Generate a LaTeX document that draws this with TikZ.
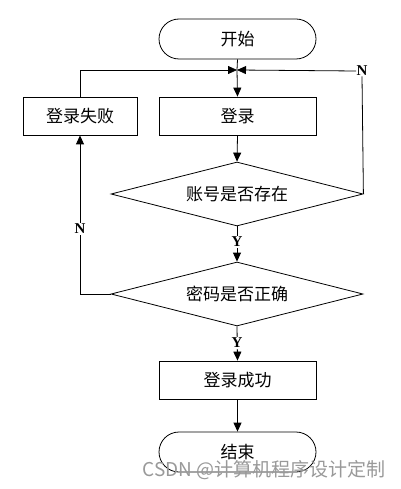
\documentclass[tikz,border=0pt]{standalone}
\usepackage{fontspec}
\setmainfont{Liberation Serif}
\newfontfamily\cjk{Noto Sans CJK SC}
\usetikzlibrary{arrows.meta,shapes.geometric,shapes.misc}
\begin{document}
\begin{tikzpicture}[x=1pt,y=-1pt,
  line width=0.8pt,
  arr/.style={-{Triangle[length=9pt,width=8pt]}},
  txt/.style={font=\cjk\fontsize{17}{17}\selectfont},
  term/.style={draw,rounded rectangle,minimum width=157pt,minimum height=40pt,inner sep=0pt,txt},
  proc/.style={draw,rectangle,minimum height=38pt,inner sep=0pt,txt},
  dec/.style={draw,diamond,aspect=3.94,minimum width=252pt,minimum height=64pt,inner sep=0pt,txt},
  lab/.style={fill=white,inner sep=1pt,font=\fontsize{15}{15}\selectfont\bfseries}]
\useasboundingbox (0,0) rectangle (400,489);
\node[term] (start) at (237.5,39) {开始};
\node[proc,minimum width=157pt] (login) at (237.5,116) {登录};
\node[proc,minimum width=114pt] (fail) at (80,116) {登录失败};
\node[dec] (d1) at (237,194) {账号是否存在};
\node[dec] (d2) at (237,294) {密码是否正确};
\node[proc,minimum width=157pt] (succ) at (237.5,380) {登录成功};
\node[term] (end) at (237.5,452) {结束};
\coordinate (m) at (237,70);
\node[lab,inner sep=0pt] (nr) at (362,71) {N};
% main flow
\draw (start.south) -- (m);
\draw[arr] (m) -- (login.north);
\draw[arr] (login.south) -- (d1.north);
\draw[arr] (d1.south) -- (d2.north);
\node[lab] (y1) at (237,242) {Y};
\draw[arr] (d2.south) -- (succ.north);
\node[lab] (y2) at (237,343) {Y};
\draw[arr] (succ.south) -- (end.north);
% N loop from d1
\draw (d1.east) -- (nr.south);
\draw[arr] (nr.west) -- (m);
% N from d2 to fail
\draw[arr] (d2.west) -| (fail.south);
\node[lab] (n2) at (80,229) {N};
% fail back to login
\draw[arr] (fail.north) |- (m);
% watermark
\node[font=\cjk\fontsize{19}{19}\selectfont,text=gray!80,anchor=east,inner sep=0pt] (wm) at (386,470) {CSDN @计算机程序设计定制};
\end{tikzpicture}
\end{document}
